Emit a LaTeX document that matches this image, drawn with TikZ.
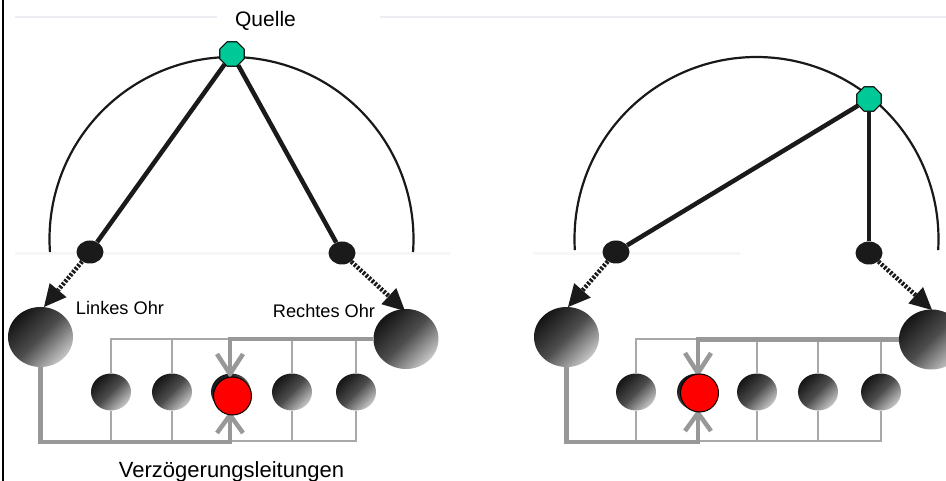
\documentclass[tikz,border=0pt]{standalone}
\usepackage{fontspec}
\setmainfont{Liberation Sans}
\usetikzlibrary{shapes.geometric, arrows.meta, calc}

\definecolor{srcgreen}{RGB}{0,200,150}
\definecolor{wiregray}{RGB}{152,152,152}
\definecolor{thingray}{RGB}{168,168,168}
\definecolor{beamblack}{RGB}{26,26,26}
\definecolor{faintblue}{RGB}{236,236,243}
\definecolor{faintgray}{RGB}{246,246,246}

\begin{document}
\begin{tikzpicture}[x=1pt, y=-1pt,
  srcnode/.style={regular polygon, regular polygon sides=8, minimum size=26pt,
    inner sep=0pt, draw=black, line width=1pt, fill=srcgreen},
  earsmall/.style={ellipse, inner sep=0pt, minimum width=27pt, minimum height=23pt,
    fill=beamblack},
  earbig/.style={ellipse, inner sep=0pt, minimum width=65pt, minimum height=60pt,
    top color=black!92, bottom color=black!22, middle color=black!70, shading angle=45},
  ballnode/.style={ellipse, inner sep=0pt, minimum width=40pt, minimum height=37pt,
    top color=black!92, bottom color=black!22, middle color=black!70, shading angle=45},
  redball/.style={circle, inner sep=0pt, minimum size=38pt, draw=black,
    line width=1pt, fill=red},
  arcline/.style={line width=2.2pt, black!90},
  beamline/.style={line width=4.5pt, beamblack},
  dotarrow/.style={line width=4.5pt, beamblack, dash pattern=on 2.4pt off 1.6pt,
    -{Triangle[length=22pt, width=22pt, line width=0pt]}},
  wirethick/.style={line width=4.5pt, wiregray},
  wirethin/.style={line width=1.5pt, thingray},
  faintline/.style={line width=2pt, faintblue},
  lbl/.style={inner sep=0pt, anchor=base, text=black}
]
\useasboundingbox (0,0) rectangle (946,481);

% background streaks and frame edge
\draw[faintline] (15,17) -- (217,17);
\draw[faintline] (380,17) -- (946,17);
\draw[line width=3pt, faintgray] (15,254) -- (450,254);
\draw[line width=3pt, faintgray] (533,254) -- (740,254);
\draw[line width=2pt, black] (3,0) -- (3,481);

%% ---------------- left configuration: source straight ahead ----------------
\draw[arcline] plot[domain=-4.1:184.1, samples=150]
  ({231.5+182*cos(\x)}, {239-182*sin(\x)});

\node[srcnode] (qL) at (232,54) {};
\node[earsmall] (smLL) at (90,252) {};
\node[earsmall] (smLR) at (342,253) {};
\draw[beamline] (qL) -- (smLL);
\draw[beamline] (qL) -- (smLR);
\node[srcnode] at (qL) {};

\node[earbig] (eLL) at (40.5,337) {};
\node[earbig] (eLR) at (406,339) {};
\coordinate (tLL) at (44,307);
\coordinate (tLR) at (405,311);
\draw[dotarrow] (smLL) -- (tLL);
\draw[dotarrow] (smLR) -- (tLR);

% delay line spheres
\node[ballnode] (bL1) at (111,392) {};
\node[ballnode] (bL2) at (172,392) {};
\node[ballnode] (bL3) at (231,392) {};
\node[ballnode] (bL4) at (292,392) {};
\node[ballnode] (bL5) at (356,392) {};

% thin taps
\draw[wirethin] (bL1.north) |- (232,339);
\draw[wirethin] (bL2.north) -- ++(0,-34.5);
\draw[wirethin] (bL4.north) -- ++(0,-32.5);
\draw[wirethin] (bL5.north) -- ++(0,-32.5);
\draw[wirethin] (bL1.south) -- ++(0,31);
\draw[wirethin] (bL2.south) -- ++(0,31);
\draw[wirethin] (bL5.south) |- (232,441);
\draw[wirethin] (bL4.south) -- ++(0,30);

% thick delay paths with chevrons
\coordinate (cLt) at (230,374);
\coordinate (cLb) at (230,415);
\draw[wirethick] (eLR.west) -| (cLt);
\draw[wirethick] (eLL.south) |- (230,442) -- (cLb);
\draw[wirethick] ($(cLt)+(-13,-20)$) -- (cLt) -- ($(cLt)+(13,-20)$);
\draw[wirethick] ($(cLb)+(-13,18)$) -- (cLb) -- ($(cLb)+(13,18)$);

\node[redball] (rL) at (232.5,396) {};

\node[lbl, font=\fontsize{21}{25}\selectfont] (lblQ) at (265.5,27) {Quelle};
\node[lbl, font=\fontsize{18.2}{22}\selectfont] (lblL) at (120,315) {Linkes Ohr};
\node[lbl, font=\fontsize{18.2}{22}\selectfont] (lblR) at (324,318) {Rechtes Ohr};
\node[lbl, font=\fontsize{22}{26}\selectfont] (lblV) at (231.5,477) {Verzögerungsleitungen};

%% ---------------- right configuration: source off to the side ----------------
\draw[arcline] plot[domain=-3.5:183.5, samples=150]
  ({756.5+182*cos(\x)}, {239-182*sin(\x)});

\node[srcnode] (qR) at (869,99) {};
\node[earsmall] (smRL) at (616,252) {};
\node[earsmall] (smRR) at (869,253) {};
\draw[beamline] (qR) -- (smRL);
\draw[beamline] (qR) -- (smRR);
\node[srcnode] at (qR) {};

\node[earbig] (eRL) at (566.5,337) {};
\node[earbig] (eRR) at (931.5,339.5) {};
\coordinate (tRL) at (568,307);
\coordinate (tRR) at (932,310);
\draw[dotarrow] (smRL) -- (tRL);
\draw[dotarrow] (smRR) -- (tRR);

\node[ballnode] (bR1) at (636,392) {};
\node[ballnode] (bR2) at (697,392) {};
\node[ballnode] (bR3) at (757,392) {};
\node[ballnode] (bR4) at (818,392) {};
\node[ballnode] (bR5) at (881,392) {};

\draw[wirethin] (bR1.north) |- (698,339);
\draw[wirethin] (bR3.north) -- ++(0,-32.5);
\draw[wirethin] (bR4.north) -- ++(0,-32.5);
\draw[wirethin] (bR5.north) -- ++(0,-32.5);
\draw[wirethin] (bR1.south) -- ++(0,31);
\draw[wirethin] (bR5.south) |- (698,441);
\draw[wirethin] (bR3.south) -- ++(0,30);
\draw[wirethin] (bR4.south) -- ++(0,30);

\coordinate (cRt) at (698,373);
\coordinate (cRb) at (698,413);
\draw[wirethick] (eRR.west) -| (cRt);
\draw[wirethick] (eRL.south) |- (698,442) -- (cRb);
\draw[wirethick] ($(cRt)+(-13,-20)$) -- (cRt) -- ($(cRt)+(13,-20)$);
\draw[wirethick] ($(cRb)+(-13,18)$) -- (cRb) -- ($(cRb)+(13,18)$);

\node[redball] (rR) at (699.5,393) {};
\end{tikzpicture}
\end{document}
